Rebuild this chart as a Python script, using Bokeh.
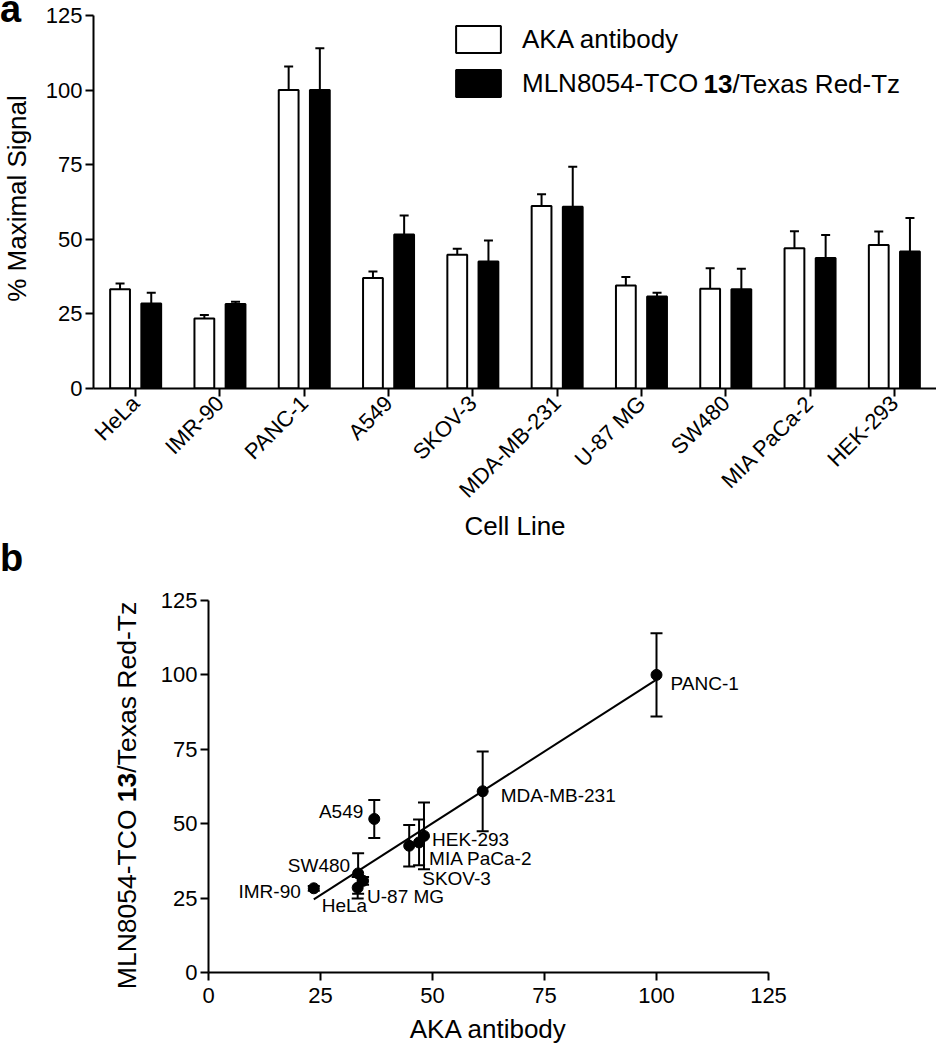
import math
import numpy as np
from bokeh.plotting import figure
from bokeh.models import (ColumnDataSource, FactorRange, Range1d, FixedTicker,
                          Whisker, TeeHead, Legend, LegendItem, Label, Div)
from bokeh.transform import dodge
from bokeh.layouts import row
from bokeh.core.properties import field, value
from bokeh.embed import file_html
from bokeh.resources import INLINE

# ---------------- data ----------------
cells = ["HeLa", "IMR-90", "PANC-1", "A549", "SKOV-3", "MDA-MB-231",
         "U-87 MG", "SW480", "MIA PaCa-2", "HEK-293"]
aka_mean = [33.3, 23.5, 100.0, 37.0, 44.8, 61.2, 34.5, 33.4, 47.0, 48.1]
aka_err = [1.9, 1.1, 7.9, 2.2, 2.0, 3.9, 2.9, 6.9, 5.7, 4.5]
mln_mean = [28.5, 28.3, 100.0, 51.6, 42.6, 60.9, 30.8, 33.3, 43.7, 45.9]
mln_err = [3.6, 0.8, 14.0, 6.4, 7.0, 13.4, 1.3, 6.8, 7.7, 11.2]
axis_ticks = [0, 25, 50, 75, 100, 125]

# label placement for panel b (screen px offsets from each point)
lab_dx = [-36, -13, 14, -11, 13, 18, 4, -8, 10, 8]
lab_dy = [18, 3.5, 9, -7, 33, 4, 16, -8, 16, 4]
lab_align = ["left", "right", "left", "right", "left", "left", "left", "right", "left", "left"]

FONT = "Liberation Sans"
CSS_FONT = "'Liberation Sans', Arial, sans-serif"


def style_axis(ax, standoff=3):
    ax.axis_line_width = 2
    ax.axis_line_color = "black"
    ax.major_tick_line_width = 2
    ax.major_tick_line_color = "black"
    ax.major_tick_out = 8
    ax.major_tick_in = 0
    ax.minor_tick_line_color = None
    ax.major_label_text_font = FONT
    ax.major_label_text_font_size = "22px"
    ax.major_label_text_color = "black"
    ax.major_label_standoff = standoff
    ax.axis_label_text_font = FONT
    ax.axis_label_text_font_size = "26px"
    ax.axis_label_text_font_style = "normal"
    ax.axis_label_text_color = "black"


def letter_html(letter, top):
    return (f'<div style="position:absolute;left:0;top:{top}px;font-family:{CSS_FONT};'
            f'font-weight:bold;font-size:38px;line-height:18px;color:#000;">{letter}</div>')


def vlabel_html(label_html, label_len, tx, ty, size):
    return (f'<div style="position:absolute;left:0;top:0;width:{label_len}px;height:30px;'
            f'line-height:30px;font-family:{CSS_FONT};font-size:{size};color:#000;'
            f'text-align:center;white-space:nowrap;transform-origin:0 0;'
            f'transform:translate({tx}px,{ty}px) rotate(-90deg);">{label_html}</div>')


def side_div(width, height, inner):
    html = (f'<div style="position:relative;width:{width}px;height:{height}px;'
            f'overflow:visible;">{inner}</div>')
    return Div(text=html, width=width, height=height, margin=0,
               styles={"overflow": "visible"})


# ---------------- panel a ----------------
src = ColumnDataSource(dict(
    cell=cells, aka=aka_mean, mln=mln_mean,
    aka_hi=[m + e for m, e in zip(aka_mean, aka_err)],
    mln_hi=[m + e for m, e in zip(mln_mean, mln_err)],
))

H1 = 575
W1 = 38
p1 = figure(x_range=FactorRange(factors=cells), y_range=Range1d(0, 125),
            width=936 - W1, height=H1, output_backend="svg", toolbar_location=None,
            min_border_left=93 - W1, min_border_right=0, min_border_top=15,
            min_border_bottom=H1 - 15 - 373)
p1.outline_line_color = None
p1.xgrid.visible = False
p1.ygrid.visible = False

off = 0.185
rw = p1.vbar(x=dodge("cell", -off, range=p1.x_range), top="aka", bottom=0,
             width=0.235, fill_color="white", line_color="black", line_width=2,
             source=src)
rb = p1.vbar(x=dodge("cell", off, range=p1.x_range), top="mln", bottom=0,
             width=0.235, fill_color="black", line_color="black", line_width=2,
             source=src)
for d, lo, hi in [(-off, "aka", "aka_hi"), (off, "mln", "mln_hi")]:
    p1.add_layout(Whisker(base=dodge("cell", d, range=p1.x_range), lower=lo, upper=hi,
                          source=src, dimension="height", line_width=2, line_color="black",
                          upper_head=TeeHead(size=9, line_width=2, line_color="black"),
                          lower_head=None))

style_axis(p1.yaxis[0])
style_axis(p1.xaxis[0], standoff=3)
p1.yaxis.ticker = FixedTicker(ticks=axis_ticks)
p1.xaxis.major_label_orientation = math.pi / 4
p1.xaxis.axis_label = "Cell Line"
p1.xaxis.axis_label_standoff = -3

legend = Legend(items=[LegendItem(label="AKA antibody", renderers=[rw]),
                       LegendItem(label="MLN8054-TCO", renderers=[rb])],
                location=(357, 288), glyph_width=56, glyph_height=34,
                label_standoff=16, spacing=10, padding=0, margin=0,
                border_line_color=None, background_fill_alpha=0,
                label_text_font=FONT, label_text_font_size="26px",
                label_text_color="black")
p1.add_layout(legend)
for txt, dx, bold in [("13", 610, True), ("/Texas Red-Tz", 639, False)]:
    p1.add_layout(Label(x=0, y=125, x_offset=dx, y_offset=-68, text=txt,
                        text_font=FONT, text_font_size="26px", text_color="black",
                        text_font_style="bold" if bold else "normal",
                        text_align="left", text_baseline="alphabetic"))

div1 = side_div(W1, H1, letter_html("a", 0) + letter_html("b", 549)
                + vlabel_html("% Maximal Signal", 373, 2, 385, "26px"))

# ---------------- panel b ----------------
src2 = ColumnDataSource(dict(
    cell=cells, x=aka_mean, y=mln_mean,
    lo=[m - e for m, e in zip(mln_mean, mln_err)],
    hi=[m + e for m, e in zip(mln_mean, mln_err)],
    dx=lab_dx, dy=lab_dy, align=lab_align,
))

H2 = 1050 - H1
W2 = 148
p2 = figure(x_range=Range1d(0, 125), y_range=Range1d(0, 125),
            width=936 - W2, height=H2, output_backend="svg", toolbar_location=None,
            min_border_left=208 - W2, min_border_right=936 - 768,
            min_border_top=600 - H1, min_border_bottom=H2 - (600 - H1) - 372)
p2.outline_line_color = None
p2.xgrid.visible = False
p2.ygrid.visible = False
style_axis(p2.yaxis[0])
style_axis(p2.xaxis[0], standoff=7)
p2.xaxis.ticker = FixedTicker(ticks=axis_ticks)
p2.yaxis.ticker = FixedTicker(ticks=axis_ticks)
p2.xaxis.axis_label = "AKA antibody"
p2.xaxis.axis_label_standoff = 8

p2.add_layout(Whisker(base="x", lower="lo", upper="hi", source=src2,
                      dimension="height", line_width=2, line_color="black",
                      upper_head=TeeHead(size=12, line_width=2, line_color="black"),
                      lower_head=TeeHead(size=12, line_width=2, line_color="black")))

coef = np.polyfit(aka_mean, mln_mean, 1)
fx = [min(aka_mean), max(aka_mean)]
fy = [float(np.polyval(coef, v)) for v in fx]
p2.line(fx, fy, line_width=2, line_color="black")

p2.scatter("x", "y", size=11, color="black", source=src2)
p2.text("x", "y", text="cell", x_offset="dx", y_offset="dy",
        text_align=field("align"), text_baseline="middle",
        text_font=value(FONT), text_font_size="19px", text_color="black",
        source=src2)

div2 = side_div(W2, H2, vlabel_html("MLN8054-TCO <b>13</b>/Texas Red-Tz", 440, 112,
                                    440.5, "26.5px"))

root1 = row(div1, p1)
root2 = row(div2, p2)
open("out.html", "w").write(file_html([root1, root2], INLINE))
